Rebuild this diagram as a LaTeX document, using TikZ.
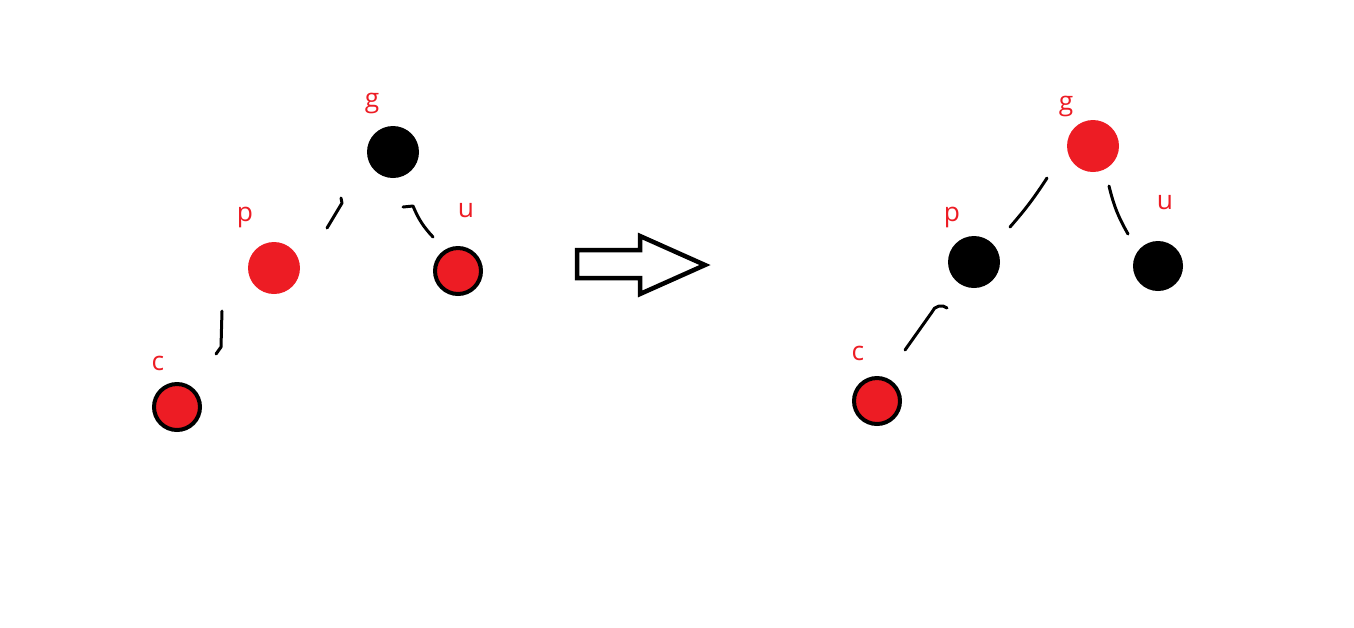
\documentclass[tikz,border=0pt]{standalone}
\usepackage{fontspec}
\setmainfont{Open Sans}
\usepackage{xcolor}
\usepackage{tikz}
\usetikzlibrary{positioning}
\definecolor{paintred}{HTML}{ED1C24}

\begin{document}
\begin{tikzpicture}[
x=0.02cm,
y=-0.02cm,
every node/.style={font=\fontsize{15}{18}\selectfont},
redbare/.style={circle,fill=paintred,inner sep=0pt,minimum size=1.04cm},
blackbare/.style={circle,fill=black,inner sep=0pt,minimum size=1.04cm},
redring/.style={circle,draw=black,line width=0.08cm,fill=paintred,inner sep=0pt,minimum size=0.92cm},
blackring/.style={circle,draw=black,line width=0.08cm,fill=black,inner sep=0pt,minimum size=0.92cm},
lbl/.style={text=paintred,anchor=base,inner sep=0pt},
stroke/.style={line width=0.06cm,line cap=round,line join=round},
bigarrow/.style={line width=0.09cm,line join=miter}
]
\useasboundingbox (0,0) rectangle (1354,627);

% before
\node[blackbare] (g1) at (393,152) {};
\node[redbare] (p1) at (274,268) {};
\node[redring] (u1) at (458,271) {};
\node[redring] (c1) at (177,407) {};
\node[lbl] (g1lbl) at (372,107) {g};
\node[lbl] (p1lbl) at (245,221) {p};
\node[lbl] (u1lbl) at (466,217) {u};
\node[lbl] (c1lbl) at (158,370) {c};

\coordinate (g1p1a) at (341,198);
\coordinate (g1p1b) at (327,228);
\coordinate (g1u1a) at (403,207);
\coordinate (g1u1b) at (433,237);
\coordinate (p1c1a) at (222,311);
\coordinate (p1c1b) at (216,354);
\draw[stroke] (g1p1a) -- (342,203) -- (g1p1b);
\draw[stroke] (g1u1a) -- (413,206) to[bend right=10] (g1u1b);
\draw[stroke] (p1c1a) -- (221,347) -- (p1c1b);

% transition
\draw[bigarrow] (577,250) -- (640,250) -- (640,236) -- (705,265) -- (640,294) -- (640,278) -- (577,278) -- cycle;

% after
\node[redbare] (g2) at (1093,146) {};
\node[blackbare] (p2) at (974,262) {};
\node[blackring] (u2) at (1158,266) {};
\node[redring] (c2) at (877,401) {};
\node[lbl] (g2lbl) at (1066,110) {g};
\node[lbl] (p2lbl) at (952,221) {p};
\node[lbl] (u2lbl) at (1165,209) {u};
\node[lbl] (c2lbl) at (858,360) {c};

\coordinate (g2p2a) at (1047,178);
\coordinate (g2p2b) at (1010,227);
\coordinate (g2u2a) at (1109,186);
\coordinate (g2u2b) at (1128,234);
\coordinate (p2c2a) at (947,308);
\coordinate (p2c2b) at (905,350);
\draw[stroke] (g2p2a) to[bend left=4] (g2p2b);
\draw[stroke] (g2u2a) to[bend right=8] (g2u2b);
\draw[stroke] (p2c2a) to[bend right=60] (932,312) -- (p2c2b);
\end{tikzpicture}
\end{document}
